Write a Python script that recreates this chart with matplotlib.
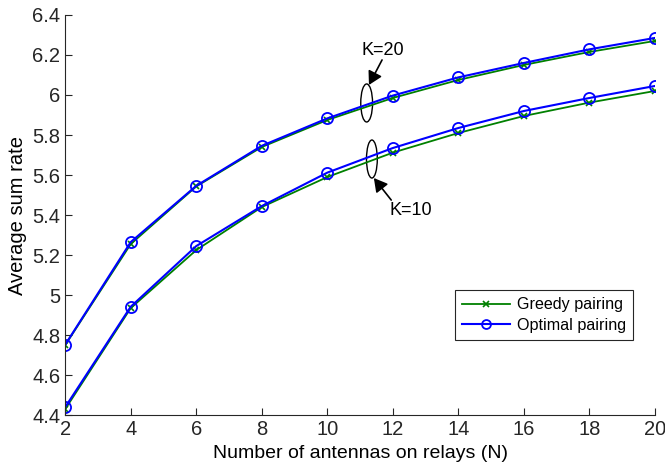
import numpy as np
import matplotlib
matplotlib.use('Agg')
import matplotlib.pyplot as plt
from matplotlib.patches import Ellipse

plt.rcParams['font.family'] = ['Liberation Sans', 'DejaVu Sans']

# Datos
N = [2, 4, 6, 8, 10, 12, 14, 16, 18, 20]
greedy_k20 = [4.75, 5.255, 5.543, 5.74, 5.875, 5.985, 6.075, 6.15, 6.215, 6.27]
optimal_k20 = [4.752, 5.265, 5.546, 5.746, 5.883, 5.997, 6.088, 6.16, 6.228, 6.285]
greedy_k10 = [4.43, 4.935, 5.225, 5.44, 5.59, 5.712, 5.81, 5.895, 5.962, 6.02]
optimal_k10 = [4.44, 4.942, 5.245, 5.445, 5.612, 5.735, 5.835, 5.92, 5.985, 6.045]

fig = plt.figure(figsize=(6.65, 4.66), dpi=100)
ax = fig.add_axes([0.098, 0.109, 0.887, 0.859])

g_style = dict(color='#008000', marker='x', ms=5, mew=1.2, lw=1.3)
o_style = dict(color='#0000ff', marker='o', ms=8, mfc='none', mew=1.3, lw=1.5)

ax.plot(N, greedy_k20, label='Greedy pairing', **g_style)
ax.plot(N, optimal_k20, label='Optimal pairing', **o_style)
ax.plot(N, greedy_k10, **g_style)
ax.plot(N, optimal_k10, **o_style)

ax.set_xlim(2, 20)
ax.set_ylim(4.4, 6.4)
ax.set_xticks(np.arange(2, 21, 2))
ax.set_yticks(np.arange(4.4, 6.41, 0.2))
ax.set_yticklabels(['4.4', '4.6', '4.8', '5', '5.2', '5.4', '5.6', '5.8', '6', '6.2', '6.4'])
ax.tick_params(direction='in', labelsize=14.5, length=5, width=0.8, colors='#262626')
ax.spines['top'].set_visible(False)
ax.spines['right'].set_visible(False)
for s in ['left', 'bottom']:
    ax.spines[s].set_color('#262626')
    ax.spines[s].set_linewidth(0.8)

ax.set_xlabel('Number of antennas on relays (N)', fontsize=14, labelpad=4)
ax.set_ylabel('Average sum rate', fontsize=14.5, labelpad=4)

# elipses y flechas
ax.add_patch(Ellipse((11.2, 5.96), 0.36, 0.19, fill=False, ec='black', lw=1))
ax.add_patch(Ellipse((11.36, 5.68), 0.33, 0.19, fill=False, ec='black', lw=1))
arrow = dict(arrowstyle='-|>,head_length=0.8,head_width=0.45', color='black', lw=1.2,
             shrinkA=0, shrinkB=0)
ax.text(11.7, 6.22, 'K=20', fontsize=13, ha='center', va='center')
ax.annotate('', xy=(11.27, 6.05), xytext=(11.67, 6.175), arrowprops=arrow)
ax.text(12.55, 5.425, 'K=10', fontsize=13, ha='center', va='center')
ax.annotate('', xy=(11.42, 5.585), xytext=(11.95, 5.475), arrowprops=arrow)

leg = ax.legend(loc='lower right', bbox_to_anchor=(0.963, 0.1875), fontsize=11.6,
                fancybox=False, edgecolor='#262626', framealpha=1,
                handlelength=3.0, borderpad=0.45, labelspacing=0.35,
                handletextpad=0.4, markerscale=0.8, borderaxespad=0)
leg.get_frame().set_linewidth(0.8)

fig.savefig('out.png', dpi=100)
